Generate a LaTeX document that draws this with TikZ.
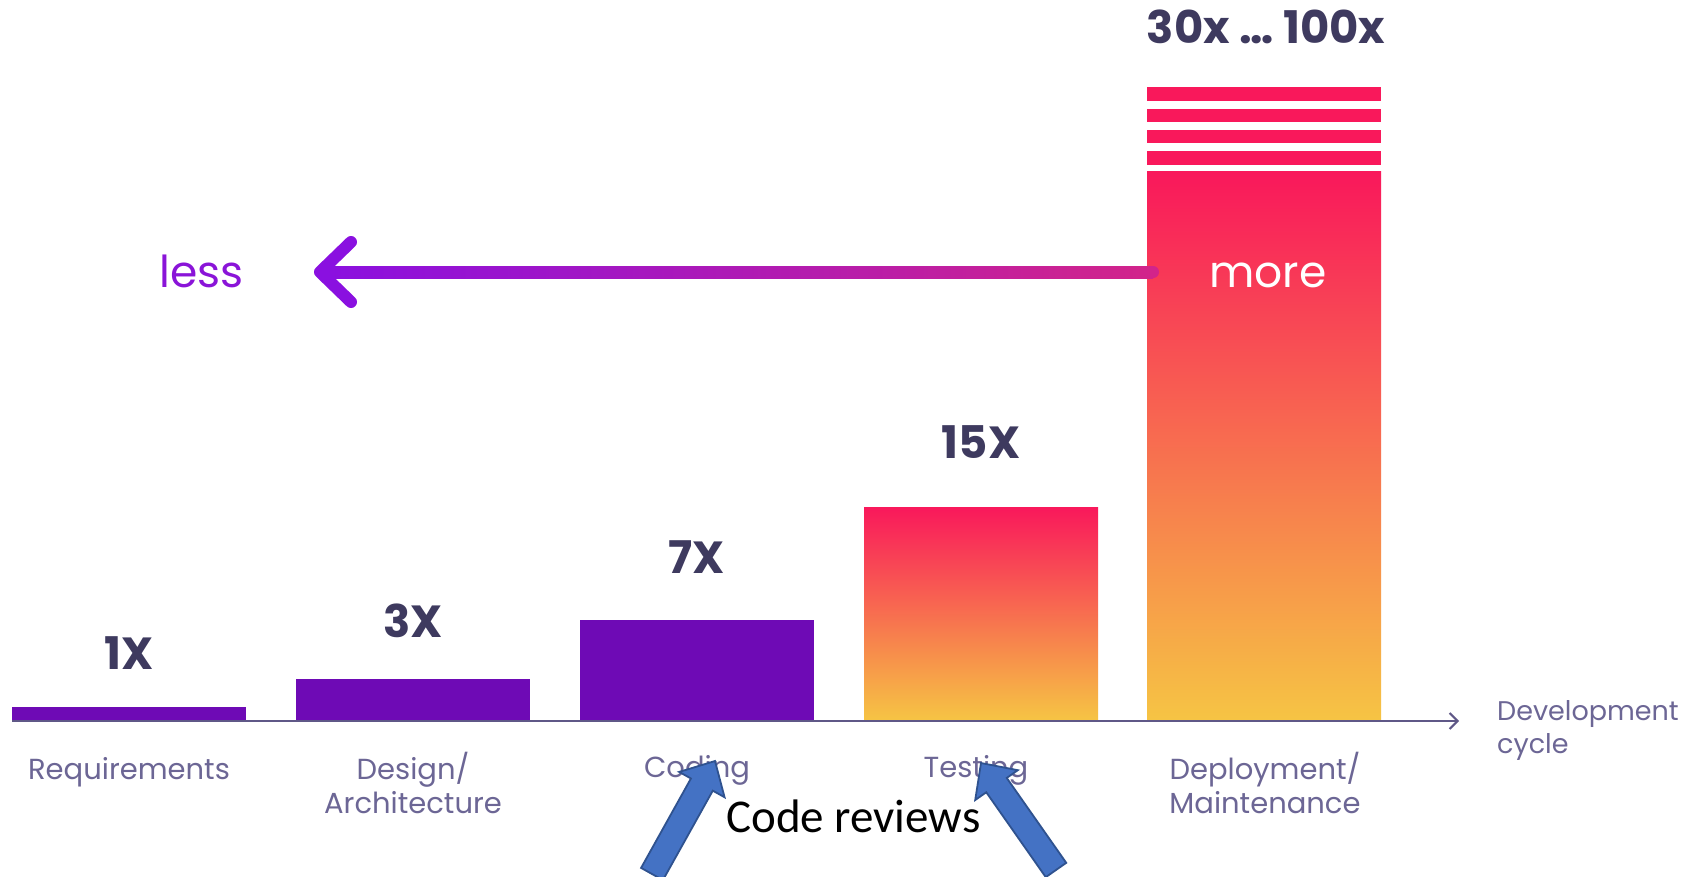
\documentclass[tikz,border=0pt]{standalone}
\usepackage{fontspec}
\setmainfont{Poppins}
\newfontfamily\calib{Carlito}
\usetikzlibrary{calc,arrows.meta}
\definecolor{barpurple}{HTML}{6E0AB5}
\definecolor{labeldark}{HTML}{3E3A5F}
\definecolor{catcol}{HTML}{6C6695}
\definecolor{axiscol}{HTML}{5F5887}
\definecolor{lesscol}{HTML}{8A14D8}
\definecolor{arrL}{HTML}{8A10E0}
\definecolor{arrR}{HTML}{D2248A}
\definecolor{pinktop}{HTML}{F9185B}
\definecolor{yellowbot}{HTML}{F6C444}
\definecolor{blockfill}{HTML}{4472C4}
\definecolor{blockedge}{HTML}{2F528F}
\tikzset{
  cat/.style={text=catcol, font=\fontsize{29}{34}\selectfont, inner sep=0pt, anchor=base},
  devlab/.style={text=catcol, font=\fontsize{27}{33}\selectfont, inner sep=0pt, anchor=base west},
  mult/.style={text=labeldark, font=\fontsize{45}{50}\selectfont\bfseries, inner sep=0pt, anchor=base},
  word/.style={font=\fontsize{44}{50}\selectfont, inner sep=0pt, anchor=base},
  purplebar/.style={fill=barpurple},
  hotbar/.style={top color=pinktop, bottom color=yellowbot},
  blockar/.style={fill=blockfill, draw=blockedge, line width=1.8pt, line join=miter},
  axisline/.style={draw=axiscol, line width=2pt, -{Straight Barb[length=8pt,width=16pt,line width=2pt]}}
}
\newcommand\myblockarrow[2]{%
  \coordinate (#1hb) at ($(#2)!27pt!(#1)$);
  \path[blockar] ($(#1)!12.5pt!90:(#2)$) -- ($(#1hb)!12.5pt!90:(#2)$) -- ($(#1hb)!26pt!90:(#2)$)
    -- (#2) -- ($(#1hb)!26pt!-90:(#2)$) -- ($(#1hb)!12.5pt!-90:(#2)$) -- ($(#1)!12.5pt!-90:(#2)$) -- cycle;}
\begin{document}
\begin{tikzpicture}[x=1pt,y=-1pt]
\useasboundingbox (0,0) rectangle (1685,877);
\clip (0,0) rectangle (1685,877);
\fill[white] (0,0) rectangle (1685,877);
% bars
\path[purplebar] (12,707) rectangle (246,720);
\path[purplebar] (296,679) rectangle (530,720);
\path[purplebar] (580,620) rectangle (814,720);
\shade[hotbar] (864,507) rectangle (1098,720);
\shade[hotbar] (1147,172) rectangle (1381,720);
\foreach \yy in {87.3,108.6,129.9,151.2}{\fill[pinktop] (1147,\yy) rectangle (1381,\yy+13.5);}
% axis
\coordinate (ax0) at (12,721);
\coordinate (ax1) at (1459,721);
\draw[axisline] (ax0) -- (ax1);
% multipliers
\node[mult] (m1) at (129,669) {1X};
\node[mult] (m2) at (413,637) {3X};
\node[mult] (m3) at (697,573) {7X};
\node[mult] (m4) at (981,458) {15X};
\node[mult] (m5) at (1266,44) {30x … 100x};
% categories
\node[cat] (c1) at (129,779) {Requirements};
\node[cat] (c2) at (413,779) {Design/};
\node[cat] (c2b) at (413,813) {Architecture};
\node[cat] (c3) at (697,777) {Coding};
\node[cat] (c4) at (976,777) {Testing};
\node[cat] (c5) at (1265,779) {Deployment/};
\node[cat] (c5b) at (1265,813) {Maintenance};
\node[devlab] (d1) at (1497,720) {Development};
\node[devlab] (d2) at (1497,753) {cycle};
% less/more arrow
\coordinate (ar0) at (1153,272);
\coordinate (ar1) at (320,272);
\shade[left color=arrL, right color=arrR] (320,266) rectangle (1153,278);
\fill[arrR] (ar0) circle (6);
\draw[arrL, line width=12pt, line cap=round, line join=round] (351,242) -- (ar1) -- (351,302);
\node[word, text=lesscol, anchor=base west] (less) at (159,287) {less};
\node[word, text=white] (more) at (1268,287) {more};
% code reviews
\node[inner sep=0pt, anchor=base west, font=\calib\fontsize{47}{52}\selectfont] (cr) at (726,832) {Code reviews};
\coordinate (lt) at (652,874);
\coordinate (lh) at (715,761);
\coordinate (rt) at (1056,870);
\coordinate (rh) at (981,763);
\myblockarrow{lt}{lh}
\myblockarrow{rt}{rh}
\end{tikzpicture}
\end{document}
